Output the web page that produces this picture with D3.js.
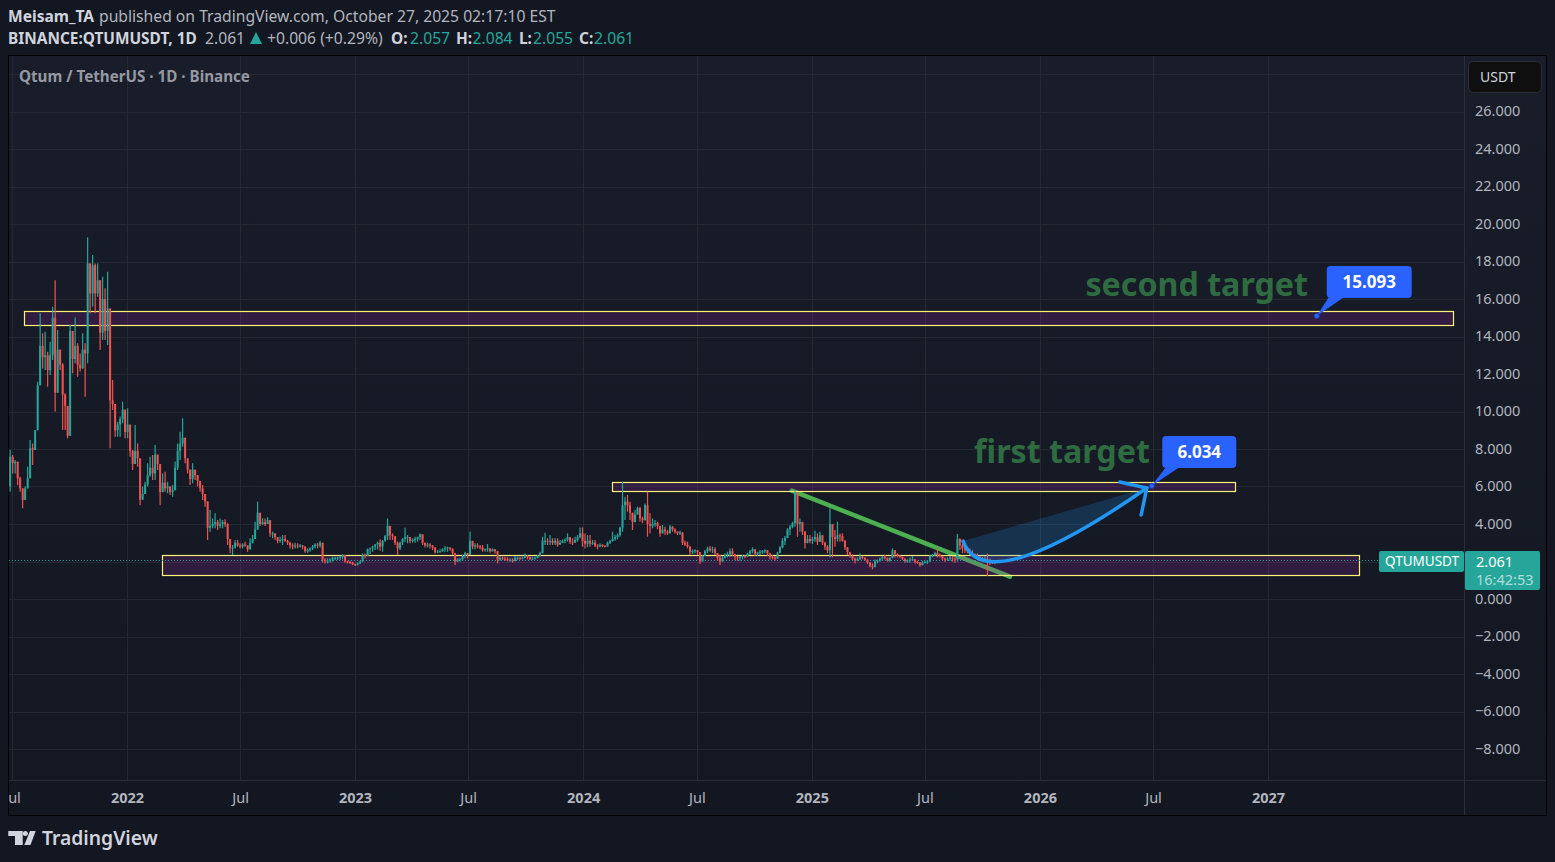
<!DOCTYPE html>
<html><head><meta charset="utf-8">
<script src="https://cdn.jsdelivr.net/npm/d3@7/dist/d3.min.js"></script>
<style>
html,body{margin:0;padding:0;background:#131722;overflow:hidden}
svg{display:block}
text{font-family:"Noto Sans",sans-serif}
</style></head><body>
<script>
// ---------- values (4-day candles, open = previous close) ----------
const firstBarDate = "2021-06-28";
const barStepDays = 4;
const firstOpen = 6.0;
const highs = [
7.95,7.68,7.41,6.97,6.52,5.72,6.0,7.06,8.48,8.30, 9.01,11.59,15.24,14.17,14.26,13.19,13.72,15.59,17.0,14.35,
13.19,12.57,10.97,9.99,14.61,13.99,15.02,13.64,13.1,14.17, 13.64,19.29,17.9,18.35,17.9,17.9,16.12,17.19,16.57,17.46,
13.72,11.68,10.26,9.46,9.73,10.52,9.46,10.17,8.48,7.95, 9.28,8.3,6.26,6.0,6.26,7.24,7.59,7.68,8.21,7.59,
6.7,6.7,6.79,6.26,6.0,6.08,7.33,8.3,8.92,9.64, 8.57,7.33,6.88,7.24,6.79,6.61,6.26,6.08,5.46,5.01,
4.75,4.3,4.57,4.21,4.3,4.21,4.25,4.04,2.97,2.88, 3.15,3.15,2.97,2.97,3.06,2.88,3.24,3.41,4.12,5.19,
4.39,4.3,4.3,4.36,4.21,3.59,3.5,3.24,3.32,3.41, 3.41,3.15,3.06,2.97,3.0,2.97,2.93,2.88,2.75,2.7,
2.75,2.88,2.97,3.0,3.09,2.79,2.17,2.17,2.17,2.26, 2.26,2.26,2.31,2.38,2.35,2.04,2.04,1.99,1.9,1.94,
2.04,2.43,2.43,2.7,2.75,2.83,2.93,3.06,3.18,3.15, 3.41,4.3,3.59,3.5,3.15,3.06,3.06,3.24,3.82,3.41,
3.24,3.24,3.32,3.32,3.5,3.41,3.0,3.0,2.97,2.88, 2.65,2.61,2.65,2.7,2.83,2.79,2.75,2.7,2.43,2.17,
2.17,2.35,2.52,2.43,3.59,3.06,2.97,2.97,2.88,2.88, 2.7,2.93,2.7,2.7,2.65,2.43,2.29,2.26,2.26,2.22,
2.17,2.17,2.29,2.26,2.26,2.26,2.43,2.35,2.22,2.26, 2.26,2.35,2.52,3.32,3.54,3.24,3.41,3.24,3.24,3.24,
3.15,3.18,3.24,3.5,3.24,3.24,3.32,3.41,3.82,3.82, 3.5,3.41,3.41,3.15,3.15,2.93,2.97,2.93,2.88,3.06,
3.15,3.59,3.41,3.5,3.86,6.26,5.46,5.55,5.19,4.57, 4.75,4.92,4.92,4.39,5.1,5.72,4.57,4.3,4.21,4.12,
3.86,3.95,3.86,3.68,3.95,3.89,3.77,3.59,3.64,3.5, 3.11,3.06,2.65,2.65,2.65,2.61,2.35,2.35,2.61,2.79,
2.83,2.79,2.76,2.35,2.35,2.3,2.44,2.52,2.7,2.7, 2.35,2.3,2.3,2.35,2.35,2.47,2.61,2.76,2.58,2.52,
2.61,2.61,2.65,2.61,2.4,2.35,2.3,2.52,2.83,3.24, 3.36,3.77,3.95,4.12,5.81,5.19,4.3,4.12,3.5,3.41,
3.41,3.32,3.64,3.5,3.59,3.41,3.06,2.88,4.84,3.77, 3.68,4.12,3.5,3.5,3.15,2.76,2.44,2.4,2.22,2.22,
2.44,2.3,2.22,2.08,1.94,1.9,2.11,2.11,2.22,2.3, 2.35,2.17,2.22,2.7,2.61,2.44,2.35,2.26,2.17,2.11,
2.22,2.3,2.08,2.04,1.9,2.04,2.04,2.08,2.35,2.4, 2.52,2.65,2.44,2.3,2.22,2.22,2.3,2.3,2.22,3.47,
3.24,2.93,2.75,2.79,2.7,2.61,2.43,2.43,2.29,2.25, 2.29,2.43,2.16,2.07,2.04,2.084];
const lows = [
5.72,6.70,6.70,6.08,5.72,4.84,5.28,5.90,6.44,7.15, 8.12,9.81,12.92,12.3,12.21,11.32,11.95,12.75,10.0,11.77,
12.21,9.01,9.01,8.57,10.44,12.04,12.57,11.86,12.13,12.57, 10.79,12.57,15.24,15.59,15.24,16.12,13.28,13.81,13.81,13.55,
8.04,10.08,8.66,8.66,8.66,9.37,8.57,8.57,7.59,6.88, 7.41,7.06,5.0,5.28,5.64,6.0,6.52,6.35,6.35,6.88,
5.0,5.81,5.72,5.64,5.55,5.46,5.81,6.88,7.41,8.12, 7.24,6.7,6.08,6.17,6.35,6.0,5.72,5.28,4.92,3.15,
3.59,3.77,3.77,3.68,3.77,3.77,3.86,2.88,2.44,2.35, 2.7,2.79,2.7,2.7,2.79,2.52,2.7,2.97,3.24,4.04,
3.89,3.95,3.89,4.04,3.32,3.24,3.15,2.97,3.0,2.88, 3.06,2.88,2.7,2.65,2.7,2.7,2.75,2.65,2.47,2.47,
2.52,2.61,2.7,2.7,2.75,1.94,1.9,1.9,1.94,1.99, 2.08,2.08,2.08,2.11,1.94,1.9,1.87,1.81,1.76,1.81,
1.87,1.99,2.17,2.35,2.4,2.52,2.61,2.65,2.58,2.52, 3.06,3.15,3.15,3.15,2.88,2.35,2.61,2.88,3.06,2.97,
2.97,3.0,3.0,3.06,3.15,2.88,2.75,2.75,2.7,2.61, 2.43,2.47,2.47,2.52,2.52,2.52,2.58,2.35,1.81,1.99,
1.99,2.04,2.17,2.17,2.43,2.65,2.65,2.7,2.65,2.52, 2.52,2.52,2.47,2.52,2.43,1.9,2.04,2.08,2.04,2.01,
1.99,1.94,2.04,2.08,2.08,2.11,2.17,2.11,2.08,2.08, 2.11,2.17,2.26,2.43,2.88,2.88,2.88,2.88,2.88,2.79,
2.93,2.97,2.97,3.06,2.93,2.88,3.0,3.06,3.24,2.79, 2.7,2.76,2.79,2.88,2.76,2.65,2.76,2.76,2.76,2.88,
2.93,3.06,3.11,3.18,3.32,3.59,4.21,4.66,4.21,3.68, 4.21,4.57,4.12,4.04,4.3,3.32,3.5,3.77,3.86,3.72,
3.32,3.5,3.41,3.41,3.5,3.59,3.5,3.41,3.41,2.88, 2.83,2.7,2.35,2.4,2.44,2.35,1.87,2.04,2.3,2.44,
2.52,2.44,2.35,2.04,1.82,1.99,2.17,2.22,2.26,2.3, 2.08,2.04,2.04,2.11,2.17,2.26,2.35,2.44,2.3,2.3,
2.35,2.4,2.44,2.3,2.11,2.11,2.04,2.17,2.44,2.7, 2.88,3.24,3.41,3.77,3.86,3.32,3.59,3.41,2.7,2.97,
2.97,2.93,3.06,2.88,3.06,2.88,2.61,2.44,2.22,2.22, 2.79,3.06,3.06,3.06,2.61,2.35,2.22,2.08,1.9,2.04,
2.08,2.11,2.04,1.87,1.69,1.58,1.81,1.9,1.99,2.04, 2.11,1.99,1.99,2.17,2.22,2.22,2.17,2.08,1.94,1.94,
1.94,2.04,1.9,1.87,1.72,1.87,1.9,1.87,1.99,2.22, 2.3,2.22,2.22,2.04,1.99,2.04,2.04,1.99,1.94,1.99,
2.61,2.44,2.45,2.43,2.34,2.29,2.16,2.08,2.04,1.99, 1.99,1.22,1.81,1.86,1.86,1.93];
const closes = [
7.59,7.24,7.32,6.44,5.90,5.28,5.9,6.44,8.04,7.95, 9.0,11.4,13.5,12.9,13.0,12.2,13.0,15.0,11.0,13.3,
12.5,10.9,10.3,8.7,14.3,12.8,13.5,12.5,12.3,13.3, 13.1,17.9,16.3,17.8,16.3,17.0,14.2,16.0,14.3,15.5,
10.6,10.4,9.0,9.3,9.6,10.1,8.9,9.3,7.9,7.2, 7.9,7.5,5.3,5.6,6.1,6.6,7.0,6.7,7.7,7.2,
5.7,6.2,5.9,6.0,5.7,5.8,7.0,7.9,8.3,8.6, 7.5,6.9,6.4,6.9,6.6,6.3,5.9,5.6,5.2,3.8,
3.9,4.0,4.1,3.9,4.0,4.1,4.0,3.2,2.7,2.75, 3.0,2.85,2.8,2.9,2.85,2.65,3.0,3.2,3.7,4.6,
4.0,4.1,4.0,4.2,3.5,3.5,3.3,3.1,3.15,3.2, 3.1,3.0,2.85,2.8,2.85,2.82,2.85,2.8,2.55,2.6,
2.7,2.8,2.9,2.85,3.0,2.1,2.0,2.05,2.1,2.2, 2.2,2.22,2.25,2.35,2.0,1.98,1.95,1.85,1.8,1.9,
2.0,2.35,2.3,2.65,2.7,2.8,2.9,3.0,2.8,3.1, 3.35,3.9,3.4,3.35,3.0,2.7,3.0,3.2,3.3,3.3,
3.1,3.15,3.2,3.3,3.45,3.0,2.85,2.9,2.85,2.75, 2.5,2.52,2.55,2.65,2.7,2.75,2.68,2.45,2.0,2.1,
2.12,2.3,2.45,2.35,3.1,2.8,2.85,2.8,2.75,2.6, 2.65,2.7,2.55,2.65,2.55,2.1,2.2,2.15,2.12,2.05,
2.1,2.02,2.2,2.2,2.18,2.2,2.3,2.25,2.12,2.15, 2.2,2.3,2.45,3.1,3.1,3.05,3.1,3.0,3.1,2.9,
3.0,3.1,3.15,3.3,3.05,3.0,3.15,3.3,3.5,3.1, 2.95,3.1,2.95,3.0,2.85,2.8,2.88,2.82,2.8,3.0,
3.1,3.2,3.3,3.4,3.8,5.0,5.2,5.0,4.6,4.1, 4.5,4.85,4.3,4.2,5.0,4.0,3.9,4.0,4.05,3.9,
3.5,3.7,3.6,3.5,3.85,3.7,3.6,3.5,3.55,3.0, 2.9,2.8,2.5,2.55,2.6,2.5,2.0,2.3,2.55,2.7,
2.6,2.65,2.45,2.2,2.0,2.2,2.35,2.4,2.55,2.4, 2.25,2.2,2.25,2.3,2.28,2.42,2.55,2.65,2.4,2.48,
2.52,2.55,2.6,2.45,2.25,2.2,2.15,2.45,2.75,3.1, 3.25,3.7,3.85,4.05,5.7,4.0,4.1,3.6,3.0,3.2,
3.1,3.2,3.3,3.05,3.4,3.0,2.8,2.6,4.0,3.3, 3.2,3.4,3.35,3.1,2.75,2.5,2.3,2.15,2.05,2.12,
2.25,2.2,2.1,1.95,1.75,1.7,2.0,2.05,2.15,2.25, 2.2,2.05,2.2,2.6,2.4,2.3,2.25,2.15,2.02,2.05,
2.1,2.12,1.98,1.95,1.8,1.95,1.98,2.0,2.3,2.35, 2.45,2.35,2.3,2.15,2.1,2.15,2.2,2.15,2.1,3.2,
2.85,2.7,2.6,2.55,2.45,2.4,2.3,2.25,2.15,2.1, 2.15,2.05,2.0,1.95,2.0,2.061];

const priceTicks = [26,24,22,20,18,16,14,12,10,8,6,4,0,-2,-4,-6,-8];
const gridPrices = [28,26,24,22,20,18,16,14,12,10,8,6,4,2,0,-2,-4,-6,-8];
const timeTicks = ["2021-07-01","2022-01-01","2022-07-01","2023-01-01","2023-07-01","2024-01-01","2024-07-01","2025-01-01","2025-07-01","2026-01-01","2026-07-01","2027-01-01"];
const timeLabels = ["Jul","2022","Jul","2023","Jul","2024","Jul","2025","Jul","2026","Jul","2027"];
const lastPrice = 2.061;
const zones = [
  {from:"2021-07-21",to:"2027-10-25",top:15.36,bottom:14.61},
  {from:"2024-02-17",to:"2026-11-10",top:6.26,bottom:5.78},
  {from:"2022-02-27",to:"2027-05-27",top:2.33,bottom:1.26}];
const trendFrom = ["2024-11-30",5.78], trendTo = ["2025-11-14",1.19];
const curveStart = ["2025-08-31",3.09], curveCtrl = ["2025-10-05",-0.1], curveEnd = ["2026-06-21",5.92];
const wingA = ["2026-05-09",6.24], wingB = ["2026-06-12",4.48];
const callouts = [{label:"6.034",date:"2026-06-29",price:6.034,boxDate:"2026-09-13",boxPrice:7.84,w:74,p0:3,p1:16},
                  {label:"15.093",date:"2027-03-20",price:15.093,boxDate:"2027-06-12",boxPrice:16.91,w:85,p0:1.5,p1:16}];
const notes = [{t:"second target",date:"2027-03-06",price:16.16},{t:"first target",date:"2026-06-26",price:7.25}];

// ---------- layout ----------
const W=1555,H=862, paneL=9,paneR=1464,paneT=56,paneB=780,outerR=1546,outerB=815;
const svg=d3.select("body").append("svg").attr("width",W).attr("height",H).attr("viewBox",`0 0 ${W} ${H}`);
const parse=d3.utcParse("%Y-%m-%d");
const x=d3.scaleUtc().domain([parse("2022-01-01"),parse("2027-01-01")]).range([127,1268]);
const y=d3.scaleLinear().domain([0,26]).range([599,111.5]);
const X=d=>x(parse(d)), pt=p=>[X(p[0]),y(p[1])];

const defs=svg.append("defs");
const g=defs.append("linearGradient").attr("id","bg").attr("x1",0).attr("y1",0).attr("x2",0).attr("y2",1);
g.append("stop").attr("offset",0).attr("stop-color","#191d29");
g.append("stop").attr("offset",1).attr("stop-color","#131722");
defs.append("clipPath").attr("id","pane").append("rect").attr("x",paneL).attr("y",paneT).attr("width",paneR-paneL).attr("height",paneB-paneT);
defs.append("clipPath").attr("id","timeClip").append("rect").attr("x",paneL).attr("y",paneB).attr("width",paneR-paneL).attr("height",outerB-paneB);

svg.append("rect").attr("width",W).attr("height",H).attr("fill","#131722");
svg.append("rect").attr("x",paneL).attr("y",paneT).attr("width",outerR-paneL).attr("height",outerB-paneT).attr("fill","url(#bg)");

const plot=svg.append("g").attr("clip-path","url(#pane)");
// grid
plot.selectAll("line.h").data(gridPrices).join("line").attr("class","h").attr("x1",paneL).attr("x2",paneR)
  .attr("y1",d=>Math.round(y(d))+.5).attr("y2",d=>Math.round(y(d))+.5).attr("stroke","#242833");
plot.selectAll("line.v").data(timeTicks).join("line").attr("class","v").attr("y1",paneT).attr("y2",paneB)
  .attr("x1",d=>Math.round(X(d))+.5).attr("x2",d=>Math.round(X(d))+.5).attr("stroke","#242833");

// trend line sits under the translucent zones
plot.append("line").attr("x1",pt(trendFrom)[0]).attr("y1",pt(trendFrom)[1]).attr("x2",pt(trendTo)[0]).attr("y2",pt(trendTo)[1])
  .attr("stroke","#4caf50").attr("stroke-width",4.5).attr("stroke-linecap","round");

// zones
plot.selectAll("rect.z").data(zones).join("rect").attr("class","z")
  .attr("x",d=>Math.round(X(d.from))-.5).attr("width",d=>Math.round(X(d.to)-X(d.from)))
  .attr("y",d=>Math.round(y(d.top))+.5).attr("height",d=>Math.round(y(d.bottom)-y(d.top)))
  .attr("fill","#9c27b0").attr("fill-opacity",.2).attr("stroke","#fff176").attr("stroke-width",1.2);

// last price dotted line
plot.append("line").attr("x1",paneL).attr("x2",paneR).attr("y1",Math.round(y(lastPrice))+.5).attr("y2",Math.round(y(lastPrice))+.5)
  .attr("stroke","#26a69a").attr("stroke-dasharray","1 2");

// candles
const t0=parse(firstBarDate);
const bars=closes.map((c,i)=>{
  const o=i?closes[i-1]:firstOpen;
  return {d:d3.utcDay.offset(t0,i*barStepDays),o,c,h:Math.max(highs[i],o,c),l:Math.min(lows[i],o,c)};
});
const col=d=>d.c>=d.o?"#26a69a":"#ef5350";
const cg=plot.append("g");
cg.selectAll("line").data(bars).join("line").attr("x1",d=>x(d.d)).attr("x2",d=>x(d.d))
  .attr("y1",d=>y(d.h)).attr("y2",d=>y(d.l)).attr("stroke",col).attr("stroke-width",1.2);
cg.selectAll("rect").data(bars).join("rect").attr("x",d=>x(d.d)-1).attr("width",2)
  .attr("y",d=>y(Math.max(d.o,d.c))).attr("height",d=>Math.max(1,Math.abs(y(d.o)-y(d.c)))).attr("fill",col);

// curved arrow
const [s,c,e]=[pt(curveStart),pt(curveCtrl),pt(curveEnd)];
const p=d3.path(); p.moveTo(...s); p.quadraticCurveTo(...c,...e);
const closed=d3.path(); closed.moveTo(...s); closed.quadraticCurveTo(...c,...e); closed.closePath();
plot.append("path").attr("d",closed.toString()).attr("fill","#2196f3").attr("fill-opacity",.2);
plot.append("path").attr("d",p.toString()).attr("fill","none").attr("stroke","#2196f3").attr("stroke-width",3.5).attr("stroke-linecap","round");
plot.append("path").attr("d",d3.line()([pt(wingA),e,pt(wingB)])).attr("fill","none").attr("stroke","#2196f3").attr("stroke-width",3.5).attr("stroke-linecap","round").attr("stroke-linejoin","miter");

// text notes
plot.selectAll("text.note").data(notes).join("text").attr("class","note")
  .attr("x",d=>X(d.date)).attr("y",d=>y(d.price)).attr("text-anchor","end")
  .style("font-family","'Noto Sans',sans-serif").attr("font-size",32.2).attr("font-weight",700)
  .attr("fill","#2f6b40").text(d=>d.t);

// callouts
const boxH=32;
callouts.forEach(k=>{
  const gx=X(k.date),gy=y(k.price),bx=X(k.boxDate),by=y(k.boxPrice),w=k.w;
  plot.append("path").attr("d",d3.line()([[gx,gy],[bx-w/2+k.p0,by+boxH/2],[bx-w/2+k.p1,by+boxH/2]])).attr("fill","#2962ff");
  plot.append("rect").attr("x",bx-w/2).attr("y",by-boxH/2).attr("width",w).attr("height",boxH).attr("rx",4).attr("fill","#2962ff");
  plot.append("text").attr("x",bx).attr("y",by+6).attr("text-anchor","middle").attr("font-size",17).attr("font-weight",700).attr("fill","#fff").text(k.label);
  plot.append("circle").attr("cx",gx).attr("cy",gy).attr("r",2.6).attr("fill","#2962ff").attr("stroke","#1c3aa9");
});

// frames
svg.append("rect").attr("x",8.5).attr("y",55.5).attr("width",outerR-8).attr("height",outerB-55).attr("fill","none").attr("stroke","#000");
svg.append("line").attr("x1",paneR+.5).attr("x2",paneR+.5).attr("y1",paneT).attr("y2",outerB).attr("stroke","#2a2e39");
svg.append("line").attr("x1",paneL).attr("x2",outerR).attr("y1",paneB+.5).attr("y2",paneB+.5).attr("stroke","#2a2e39");

// price axis
const ya=svg.append("g").attr("transform",`translate(${paneR+11},0)`)
  .call(d3.axisRight(y).tickValues(priceTicks).tickSize(0).tickPadding(0).tickFormat(v=>(v<0?"\u2212":"")+d3.format(".3f")(Math.abs(v))));
ya.select(".domain").remove();
ya.selectAll("text").attr("font-size",14.5).attr("fill","#b2b5be").attr("dy","0.3em").style("font-family","'Noto Sans',sans-serif");

// time axis
const ta=svg.append("g").attr("clip-path","url(#timeClip)");
const xa=ta.append("g").attr("transform",`translate(0,${paneB})`)
  .call(d3.axisBottom(x).tickValues(timeTicks.map(parse)).tickSize(0).tickPadding(0).tickFormat((d,i)=>timeLabels[i]));
xa.select(".domain").remove();
xa.selectAll("text").attr("y",23).attr("dy",0).attr("font-size",14.5).attr("fill","#b2b5be")
  .attr("font-weight",(d,i)=>/^\d/.test(timeLabels[i])?700:400).style("font-family","'Noto Sans',sans-serif");

// USDT button
svg.append("rect").attr("x",1468.5).attr("y",61.5).attr("width",73).attr("height",31).attr("rx",5).attr("fill","#0f0f0f").attr("stroke","#2a2e39");
svg.append("text").attr("x",1480).attr("y",82).attr("font-size",14).attr("fill","#d1d4dc").text("USDT");

// last price labels
svg.append("rect").attr("x",1379).attr("y",551).attr("width",85).attr("height",21).attr("rx",2).attr("fill","#26a69a");
svg.append("text").attr("x",1385).attr("y",566).attr("font-size",13.5).attr("fill","#fff").text("QTUMUSDT");
svg.append("rect").attr("x",1465).attr("y",551).attr("width",75).attr("height",39).attr("rx",2).attr("fill","#26a69a");
svg.append("text").attr("x",1476).attr("y",567).attr("font-size",14.5).attr("fill","#fff").text("2.061");
svg.append("text").attr("x",1476).attr("y",585).attr("font-size",14.5).attr("fill","#fff").attr("fill-opacity",.65).text("16:42:53");

// header
const hdr=(tx,px,py,o={})=>svg.append("text").attr("x",px).attr("y",py).attr("font-size",o.s||15.7).attr("font-weight",o.b?700:400).attr("fill",o.c||"#d1d4dc").text(tx);
hdr("Meisam_TA",8,22,{b:1,s:15.6});
hdr("published on TradingView.com, October 27, 2025 02:17:10 EST",99,22,{c:"#b2b5be"});
hdr("BINANCE:QTUMUSDT, 1D",8,44,{b:1,s:15.4});
hdr("2.061",205,44,{c:"#b2b5be"});
svg.append("path").attr("d","M250 44 L262 44 L256 32 Z").attr("fill","#26a69a");
hdr("+0.006 (+0.29%)",267,44,{c:"#b2b5be"});
[["O:",391,"2.057",410],["H:",456,"2.084",472.5],["L:",519,"2.055",533],["C:",579,"2.061",594]].forEach(a=>{
  hdr(a[0],a[1],44,{b:1,s:15.4}); hdr(a[2],a[3],44,{c:"#26a69a"});
});
hdr("Qtum / TetherUS \u00b7 1D \u00b7 Binance",19,82,{b:1,s:15.2,c:"#9598a1"});

// logo
svg.append("path").attr("fill","#d1d4dc").attr("d","M8.3 831H22.7V845H15V836H8.3Z M30 831H35.7L30.5 845H24.3Z");
svg.append("circle").attr("cx",25.3).attr("cy",833.4).attr("r",2.5).attr("fill","#d1d4dc");
svg.append("text").attr("x",42).attr("y",845).attr("font-size",19.3).attr("font-weight",600).attr("fill","#d1d4dc").text("TradingView");
</script>
</body></html>
